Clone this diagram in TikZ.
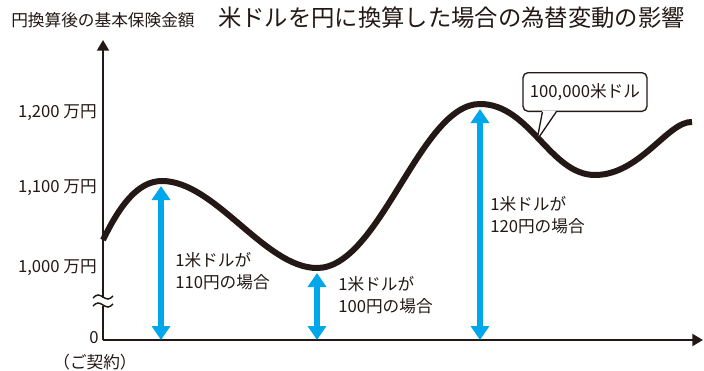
\documentclass[tikz,border=0pt]{standalone}
\usepackage{fontspec}
\setmainfont{Noto Sans CJK JP}
\usetikzlibrary{arrows.meta, calc, positioning}
\definecolor{inkBlack}{HTML}{231815}
\definecolor{rateBlue}{HTML}{00A7EA}
\tikzset{
    axisLine/.style={-{Triangle[width=9pt, length=8pt]}, line width=1.5pt, draw=inkBlack},
    breakMark/.style={line width=1.1pt, draw=inkBlack},
    rateCurve/.style={line width=4.5pt, draw=inkBlack},
    rateArrow/.style={{Triangle[width=13.5pt, length=10.5pt]}-{Triangle[width=13.5pt, length=10.5pt]}, line width=4.5pt, draw=rateBlue, fill=rateBlue},
    tickLabel/.style={anchor=east, inner sep=0pt, text=inkBlack, font=\fontsize{12.5}{15}\selectfont},
    rateLabel/.style={anchor=west, align=left, inner sep=0pt, text=inkBlack, font=\fontsize{12.5}{16.5}\selectfont},
    usdBox/.style={draw=inkBlack, fill=white, rounded corners=3.75pt, line width=1pt, minimum width=93pt, minimum height=29pt, inner sep=0pt, text=inkBlack, font=\fontsize{12.5}{15}\selectfont},
}
\newcommand{\yTick}[3]{
    \node[tickLabel] (#1) at (97, #2) {#3};
}
\newcommand{\drawRate}[1]{
    \draw[rateArrow] (#1) -- (#1 |- O);
}

\begin{document}
\begin{tikzpicture}[x=0.75pt, y=-0.75pt]
    \useasboundingbox (0,0) rectangle (704,371);

    % 見出し
    \node[anchor=west, inner sep=0pt, text=inkBlack, font=\fontsize{12.5}{15}\selectfont] (ytitle) at (11,20.5) {円換算後の基本保険金額};
    \node[anchor=west, inner sep=0pt, text=inkBlack, font=\fontsize{17.5}{20}\selectfont] (title) at (218,18) {米ドルを円に換算した場合の為替変動の影響};

    % 軸
    \coordinate (O) at (103,340);
    \coordinate (yEnd) at (103,40);
    \coordinate (xEnd) at (703,340);
    \draw[axisLine] (O) -- (yEnd);
    \draw[axisLine] (O) -- (xEnd);

    \yTick{t1200}{113}{1,200 万円}
    \yTick{t1100}{188}{1,100 万円}
    \yTick{t1000}{268}{1,000 万円}
    \node[tickLabel] (t0) at (99,338) {0};
    \node[inner sep=0pt, text=inkBlack, font=\fontsize{12.5}{15}\selectfont] (start) at (95,362) {（ご契約）};

    % 省略記号
    \fill[white] (97,297.5) rectangle (109,305.5);
    \draw[breakMark, shift={(103,297)}] (-10,1) sin (-5,-2) cos (0,0) sin (5,2) cos (10,-1);
    \draw[breakMark, shift={(103,305)}] (-10,1) sin (-5,-2) cos (0,0) sin (5,2) cos (10,-1);

    % 保険金額の推移
    \coordinate (c0) at (103,240);
    \coordinate (c1) at (162,181);
    \coordinate (c2) at (317,268);
    \coordinate (c3) at (480,104);
    \coordinate (c4) at (595,175);
    \coordinate (c5) at (692,122);
    \draw[rateCurve] (c0) .. controls (120,205) and (138,181) .. (c1)
        .. controls (215,181) and (265,268) .. (c2)
        .. controls (380,268) and (420,104) .. (c3)
        .. controls (530,104) and (550,175) .. (c4)
        .. controls (640,175) and (668,121) .. (c5);

    % 為替レート別
    \coordinate (r110) at (161,186);
    \coordinate (r100) at (317,273);
    \coordinate (r120) at (480,109);
    \drawRate{r110}
    \drawRate{r100}
    \drawRate{r120}
    \node[rateLabel] (l110) at (175,271) {1米ドルが\\110円の場合};
    \node[rateLabel] (l100) at (338,295) {1米ドルが\\100円の場合};
    \node[rateLabel] (l120) at (490,215) {1米ドルが\\120円の場合};

    % 吹き出し
    \node[usdBox] (usd) at (585,92) {100,000米ドル};
    \coordinate (usdTip) at (537,140);
    \coordinate (pl) at ($(usd.south west)!0.16!(usd.south east)$);
    \coordinate (pr) at ($(usd.south west)!0.27!(usd.south east)$);
    \fill[white] ($(pl)+(0,-1.5)$) -- (usdTip) -- ($(pr)+(0,-1.5)$) -- cycle;
    \draw[line width=1pt, draw=inkBlack, line join=round] (pl) -- (usdTip) -- (pr);

\end{tikzpicture}
\end{document}
